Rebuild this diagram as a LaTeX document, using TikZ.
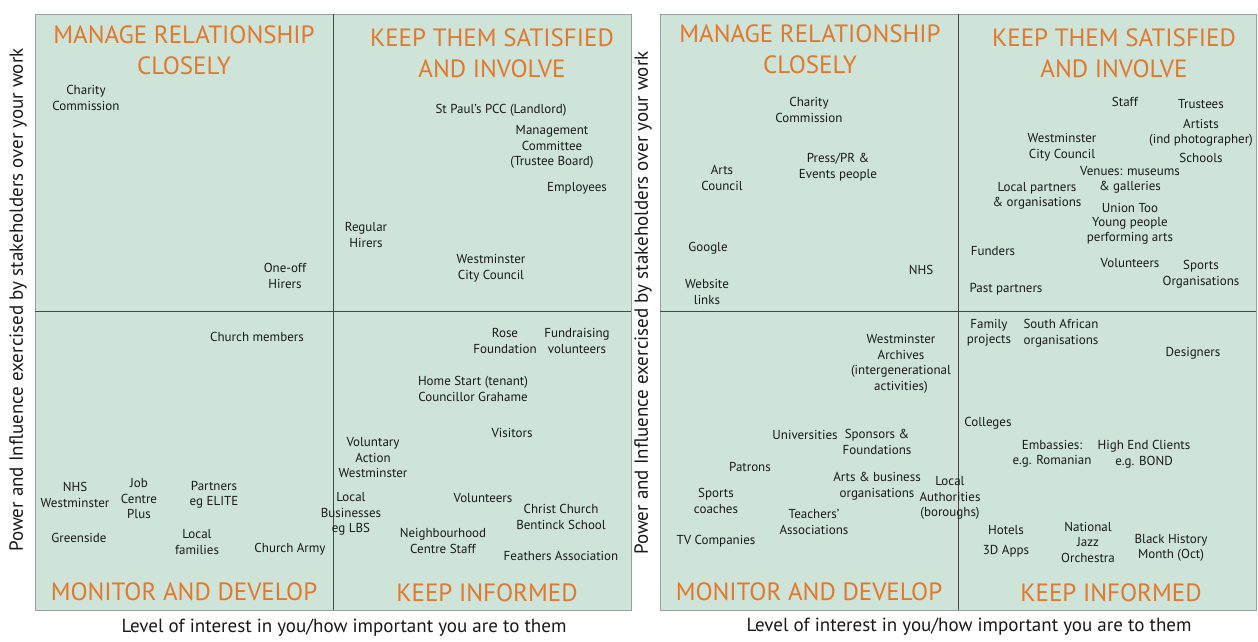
\documentclass[tikz,border=0pt]{standalone}
\usepackage{fontspec}
\setmainfont{PT Sans}
\definecolor{gridfill}{RGB}{206,228,217}
\definecolor{gridedge}{RGB}{150,162,156}
\definecolor{gridline}{RGB}{70,70,70}
\definecolor{headorange}{RGB}{226,120,44}
\definecolor{itemtext}{RGB}{25,25,25}

\tikzset{
  item/.style={align=center, inner sep=0pt, text=itemtext,
    font=\fontsize{13}{15.5}\selectfont},
  heading/.style={align=center, inner sep=0pt, text=headorange,
    font=\fontsize{25}{31}\selectfont},
  axislabel/.style={inner sep=0pt, text=black!90,
    font=\fontsize{19}{22}\selectfont},
}

\begin{document}
\begin{tikzpicture}[x=1pt, y=-1pt]
    \useasboundingbox (0,0) rectangle (1258,642);
    % the two grids, second one shifted right
    \foreach \ox in {0,625} {
        \begin{scope}[xshift=\ox]
            \draw[gridedge, fill=gridfill] (35,14) rectangle (631,610);
            \draw[gridline] (333,14) -- (333,610);
            \draw[gridline] (35,311) -- (631,311);
        \end{scope}
    }

    % ---- first grid ----
    \node[axislabel, rotate=90] (powerA) at (18,300) {Power and Influence exercised by stakeholders over your work};
    \node[axislabel] (interestA) at (344,628) {Level of interest in you/how important you are to them};

    \node[heading] (manageA) at (184,50) {MANAGE RELATIONSHIP\\CLOSELY};
    \node[heading] (satisfyA) at (492,53) {KEEP THEM SATISFIED\\AND INVOLVE};
    \node[heading] (monitorA) at (184,592) {MONITOR AND DEVELOP};
    \node[heading] (informA) at (487,593) {KEEP INFORMED};

    \node[item] (charityA) at (86,98) {Charity\\Commission};
    \node[item] (oneoff) at (285,276) {One-off\\Hirers};

    \node[item] (stpauls) at (501,110) {St Paul's PCC (Landlord)};
    \node[item] (mgmt) at (552,147) {Management\\Committee\\(Trustee Board)};
    \node[item] (employees) at (577,188) {Employees};
    \node[item] (regular) at (366,235) {Regular\\Hirers};
    \node[item] (wccA) at (491,268) {Westminster\\City Council};

    \node[item] (members) at (257,337) {Church members};
    \node[item] (nhsA) at (75,495) {NHS\\Westminster};
    \node[item] (jobcentre) at (139,499) {Job\\Centre\\Plus};
    \node[item] (elite) at (214,495) {Partners\\eg ELITE};
    \node[item] (greenside) at (79,538) {Greenside};
    \node[item] (families) at (197,542) {Local\\families};
    \node[item] (army) at (290,549) {Church Army};

    \node[item] (rose) at (505,341) {Rose\\Foundation};
    \node[item] (fundraising) at (577,341) {Fundraising\\volunteers};
    \node[item] (homestart) at (473,389) {Home Start (tenant)\\Councillor Grahame};
    \node[item] (visitors) at (512,433) {Visitors};
    \node[item] (voluntary) at (373,458) {Voluntary\\Action\\Westminster};
    \node[item] (lbs) at (351,514) {Local\\Businesses\\eg LBS};
    \node[item] (volunteersA) at (483,498) {Volunteers};
    \node[item] (christchurch) at (561,517) {Christ Church\\Bentinck School};
    \node[item] (neighbourhood) at (443,541) {Neighbourhood\\Centre Staff};
    \node[item] (feathers) at (561,556) {Feathers Association};

    % ---- second grid ----
    \node[axislabel, rotate=90] (powerB) at (643,303) {Power and Influence exercised by stakeholders over your work};
    \node[axislabel] (interestB) at (969,627) {Level of interest in you/how important you are to them};

    \node[heading] (manageB) at (810,49) {MANAGE RELATIONSHIP\\CLOSELY};
    \node[heading] (satisfyB) at (1114,53) {KEEP THEM SATISFIED\\AND INVOLVE};
    \node[heading] (monitorB) at (809,592) {MONITOR AND DEVELOP};
    \node[heading] (informB) at (1111,593) {KEEP INFORMED};

    \node[item] (charityB) at (809,110) {Charity\\Commission};
    \node[item] (press) at (838,167) {Press/PR \&\\Events people};
    \node[item] (arts) at (722,178) {Arts\\Council};
    \node[item] (google) at (708,248) {Google};
    \node[item] (website) at (707,292) {Website\\links};
    \node[item] (nhsB) at (921,270) {NHS};

    \node[item] (staff) at (1125,102) {Staff};
    \node[item] (trustees) at (1201,104) {Trustees};
    \node[item] (artists) at (1201,133) {Artists\\(ind photographer)};
    \node[item] (schools) at (1201,158) {Schools};
    \node[item] (wccB) at (1062,147) {Westminster\\City Council};
    \node[item] (venues) at (1130,180) {Venues: museums\\\& galleries};
    \node[item] (localpartners) at (1037,196) {Local partners\\\& organisations};
    \node[item] (uniontoo) at (1130,208) {Union Too};
    \node[item] (young) at (1130,231) {Young people\\performing arts};
    \node[item] (funders) at (993,251) {Funders};
    \node[item] (volunteersB) at (1130,263) {Volunteers};
    \node[item] (sports) at (1201,274) {Sports\\Organisations};
    \node[item] (past) at (1006,289) {Past partners};

    \node[item] (archives) at (901,364) {Westminster\\Archives\\(intergenerational\\activities)};
    \node[item] (universities) at (805,435) {Universities};
    \node[item] (sponsors) at (877,442) {Sponsors \&\\Foundations};
    \node[item] (patrons) at (750,467) {Patrons};
    \node[item] (artsbusiness) at (877,486) {Arts \& business\\organisations};
    \node[item] (coaches) at (716,501) {Sports\\coaches};
    \node[item] (authorities) at (950,498) {Local\\Authorities\\(boroughs)};
    \node[item] (teachers) at (814,522) {Teachers'\\Associations};
    \node[item] (tv) at (716,541) {TV Companies};

    \node[item] (family) at (989,333) {Family\\projects};
    \node[item] (southafrican) at (1061,333) {South African\\organisations};
    \node[item] (designers) at (1193,353) {Designers};
    \node[item] (colleges) at (988,423) {Colleges};
    \node[item] (embassies) at (1052,454) {Embassies:\\e.g. Romanian};
    \node[item] (highend) at (1144,454) {High End Clients\\e.g. BOND};
    \node[item] (hotels) at (1006,530) {Hotels};
    \node[item] (apps) at (1006,551) {3D Apps};
    \node[item] (jazz) at (1088,542) {National\\Jazz\\Orchestra};
    \node[item] (blackhistory) at (1171,548) {Black History\\Month (Oct)};
\end{tikzpicture}
\end{document}
